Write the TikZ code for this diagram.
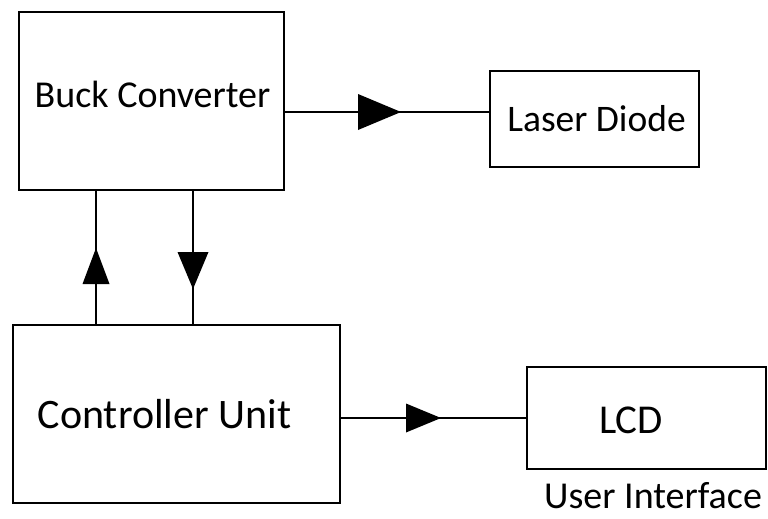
\documentclass[tikz,border=0pt]{standalone}
\usepackage{fontspec}
\setmainfont{Carlito}
\usetikzlibrary{decorations.markings}
\tikzset{
  block/.style={draw, line width=2pt, rectangle, inner sep=0pt},
  caption/.style={anchor=base, inner sep=0pt, font=\fontsize{#1}{#1}\selectfont},
  caption/.default=38,
  wire/.style={line width=1.6pt},
  % filled triangle placed along a wire: #1 distance of its base from the start, #2 length, #3 width
  midtri/.style n args={3}{postaction={decorate}, decoration={markings,
    mark=at position #1 with {\fill (0,-#3/2) -- (#2,0) -- (0,#3/2) -- cycle;}}}
}
\begin{document}
\begin{tikzpicture}[x=1pt, y=-1pt]
  \useasboundingbox (0,0) rectangle (768,519);

  % blocks
  \node[block, minimum width=265pt, minimum height=178pt] (buck) at (151.5,101) {};
  \node[block, minimum width=209pt, minimum height=96pt] (laser) at (594.5,119) {};
  \node[block, minimum width=327pt, minimum height=178pt] (ctrl) at (176.5,414) {};
  \node[block, minimum width=239pt, minimum height=102pt] (lcd) at (646.5,418) {};

  % labels
  \node[caption=38] (tbuck) at (152.5,107) {Buck Converter};
  \node[caption=37.5] (tlaser) at (596.5,131) {Laser Diode};
  \node[caption=42] (tctrl) at (164.5,428) {Controller Unit};
  \node[caption=41] (tlcd) at (631,433) {LCD};
  \node[caption=38] (tui) at (653,508) {User Interface};

  % connectors
  \coordinate (upx) at (96,0);
  \coordinate (downx) at (193,0);
  \draw[wire, midtri={73pt}{43}{36}] (buck.east |- 0,112) -- (laser.west |- 0,112);
  \draw[wire, midtri={40pt}{36}{27}] (ctrl.north -| upx) -- (buck.south -| upx);
  \draw[wire, midtri={61pt}{37}{31}] (buck.south -| downx) -- (ctrl.north -| downx);
  \draw[wire, midtri={65pt}{35}{29}] (ctrl.east |- 0,418) -- (lcd.west |- 0,418);
\end{tikzpicture}
\end{document}
